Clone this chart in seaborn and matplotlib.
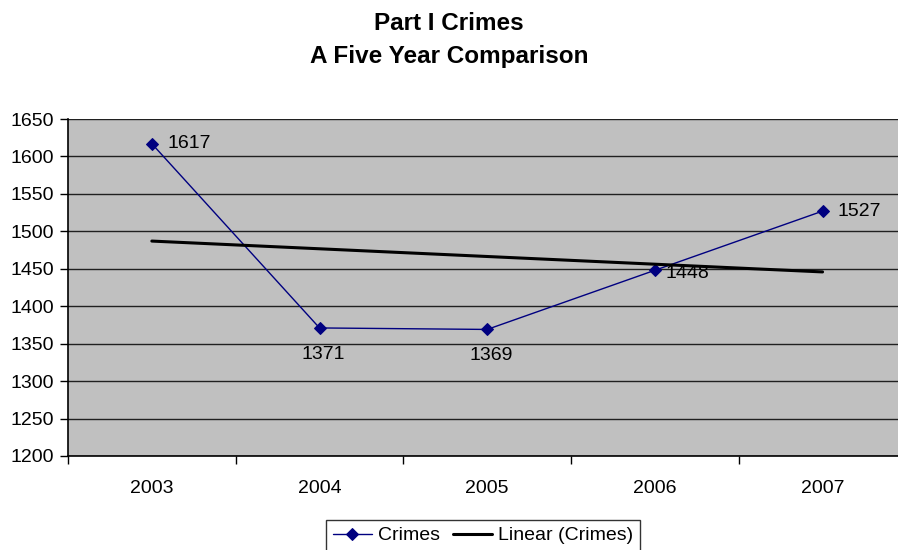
import numpy as np
import pandas as pd
import matplotlib
matplotlib.use("Agg")
import matplotlib.pyplot as plt
import seaborn as sns

# --- Data ---
years = ["2003", "2004", "2005", "2006", "2007"]
crimes = [1617, 1371, 1369, 1448, 1527]

# label placement: offset (dx, dy) in points for each data label
label_offsets = [(11, 0), (-13, -19), (-13, -19), (8, -2), (11, 0)]

sns.set_theme(style="white")
plt.rcParams["font.family"] = ["Liberation Sans", "DejaVu Sans"]
plt.rcParams["text.color"] = "black"
plt.rcParams["xtick.labelcolor"] = "black"
plt.rcParams["ytick.labelcolor"] = "black"

df = pd.DataFrame({"pos": np.arange(len(years)), "Crimes": crimes})

fig = plt.figure(figsize=(8.98, 5.5), dpi=100)
ax = fig.add_axes([68 / 898, 94 / 550, 830 / 898, 337 / 550])
ax.set_facecolor("#C0C0C0")

# gridlines
ax.set_axisbelow(True)
ax.yaxis.grid(True, color="#202020", linewidth=1.0)
ax.xaxis.grid(False)

sns.lineplot(data=df, x="pos", y="Crimes", ax=ax, color="#000080",
             marker="D", markersize=6, markeredgecolor="#000080",
             linewidth=1.0, label="Crimes")

sns.regplot(data=df, x="pos", y="Crimes", ax=ax, scatter=False, ci=None,
            truncate=True, line_kws={"color": "black", "linewidth": 2.2},
            label="Linear (Crimes)")

for i, v in enumerate(crimes):
    dx, dy = label_offsets[i]
    ax.annotate(str(v), (i, v), xytext=(dx, dy), textcoords="offset points",
                ha="left", va="center", fontsize=14, color="black")

ax.set_ylim(1200, 1650)
ax.set_yticks(range(1200, 1651, 50))
ax.set_xlim(-0.5, 4.45)
ax.set_xticks(np.arange(-0.5, 4.0, 1.0))
ax.set_xticklabels([])
ax.set_xticks(np.arange(len(years)), minor=True)
ax.set_xticklabels(years, minor=True)
ax.tick_params(axis="x", which="major", length=6, width=1, color="black",
               direction="out", bottom=True)
ax.tick_params(axis="x", which="minor", length=0, pad=17, labelsize=14)
ax.tick_params(axis="y", length=6, width=1, color="black", direction="out",
               left=True, labelsize=14, pad=4)
ax.set_xlabel("")
ax.set_ylabel("")

for side in ["top", "right"]:
    ax.spines[side].set_visible(False)
for side in ["left", "bottom"]:
    ax.spines[side].set_color("black")
    ax.spines[side].set_linewidth(1.2)

fig.text(0.5, 1 - 23 / 550, "Part I Crimes", ha="center", va="center",
         fontsize=17.5, fontweight="bold")
fig.text(0.5, 1 - 56 / 550, "A Five Year Comparison", ha="center",
         va="center", fontsize=17.5, fontweight="bold")

leg = ax.legend(loc="upper center", bbox_to_anchor=(0.5, -0.19), ncol=2,
                frameon=True, fancybox=False, fontsize=14, handlelength=2.0,
                handletextpad=0.3, columnspacing=0.7, borderpad=0.35,
                borderaxespad=0)
leg.get_frame().set_edgecolor("black")
leg.get_frame().set_linewidth(1.0)

fig.savefig("out.png", dpi=100)
